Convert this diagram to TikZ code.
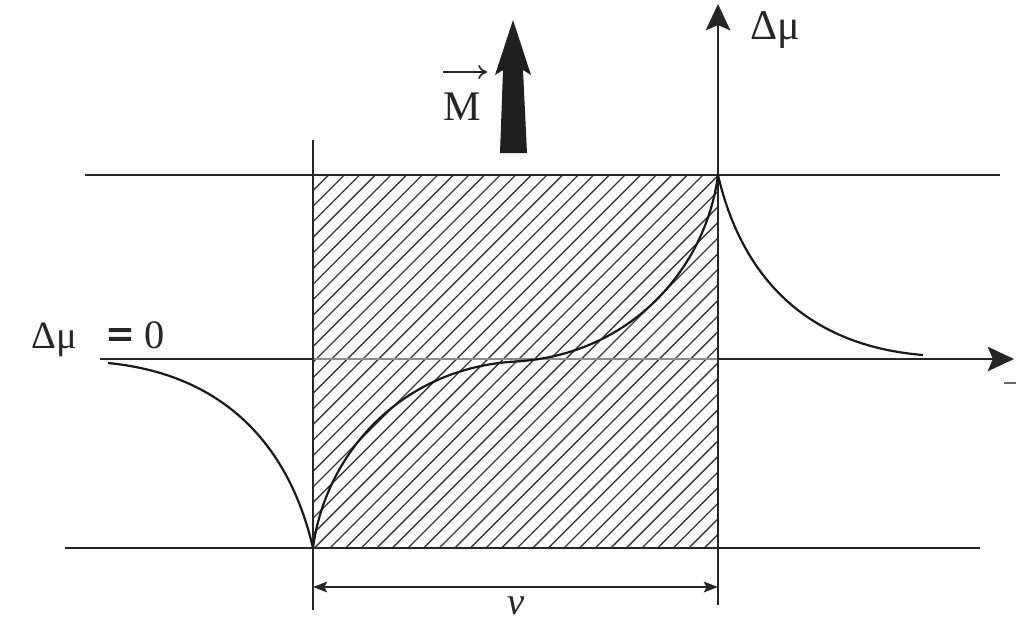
\documentclass[tikz,border=0pt]{standalone}
\usepackage{fontspec}
\setmainfont{Liberation Serif}
\newfontfamily\heavyeq[FakeBold=4]{Liberation Serif}
\usetikzlibrary{arrows.meta}
\begin{document}
\begin{tikzpicture}[x=0.02cm,y=-0.02cm]
\tikzset{
  ln/.style={line width=1.15pt, draw=black!85},
  thinln/.style={line width=0.8pt, draw=black!45},
  hatchln/.style={line width=0.75pt, draw=black!78},
  crv/.style={line width=1.25pt, draw=black!90},
  lbl/.style={font=\fontsize{22}{26}\selectfont, inner sep=0pt, text=black!85},
  axisarrow/.style={-{Stealth[length=15pt,width=14pt,inset=3pt]}},
  dimarrow/.style={{Stealth[length=8pt,width=6pt,inset=1.5pt]}-{Stealth[length=8pt,width=6pt,inset=1.5pt]}}
}
\useasboundingbox (0,0) rectangle (1024,630);
% hatching
\begin{scope}
  \clip (313,175) rectangle (718,548);
  \foreach \i in {0,...,51} \draw[hatchln] ({-60+\i*15.6},548) -- ++(420,-420);
\end{scope}
% horizontal lines
\draw[ln] (85,175) -- (1000,175);
\draw[ln] (65,548) -- (980,548);
\draw[ln] (100,359) -- (313,359);
\draw[thinln] (313,359) -- (718,359);
\draw[ln, axisarrow] (718,359) -- (1014,359);
% vertical lines
\draw[ln] (313,140) -- (313,610);
\draw[ln, axisarrow] (718,605) -- (718,4);
% dimension
\draw[ln, dimarrow] (313,587) -- (718,587);
% curves
\draw[crv] (313,548) .. controls (325,455) and (400,368) .. (515.5,361.5)
                     .. controls (631,355) and (706,268) .. (718,175);
\draw[crv] (718,175) .. controls (740,270) and (800,345) .. (923,355);
\draw[crv] (313,548) .. controls (291,453) and (231,375) .. (108,363);
% magnetisation arrow
\fill[black!88] (513,20) -- (531,75) -- (523,70) -- (527,153) -- (500,153) -- (503,70) -- (495,75) -- cycle;
% labels
\node[lbl, anchor=base west, font=\fontsize{24}{28}\selectfont] (dmu) at (750,39) {Δμ};
\node[lbl, anchor=base west] (dmzero) at (31,348) {Δμ};
\node[lbl, anchor=base, font=\fontsize{25}{30}\heavyeq] (eq) at (120,349) {=};
\node[lbl, anchor=base, font=\fontsize{23}{27}\selectfont] (zero) at (155,348) {0};
\node[lbl, anchor=base, font=\fontsize{24}{28}\selectfont] (M) at (462,120) {M};
\coordinate (va) at (443,72);
\coordinate (vb) at (487,72);
\draw[line width=0.9pt, draw=black!85, -{To[length=5pt,width=8pt]}] (va) -- (vb);
\node[lbl, font=\fontsize{22}{26}\selectfont\itshape] (nu) at (516,606) {ν};
\draw[line width=0.8pt, draw=black!60] (1004,383) -- (1016,383);
\end{tikzpicture}
\end{document}
